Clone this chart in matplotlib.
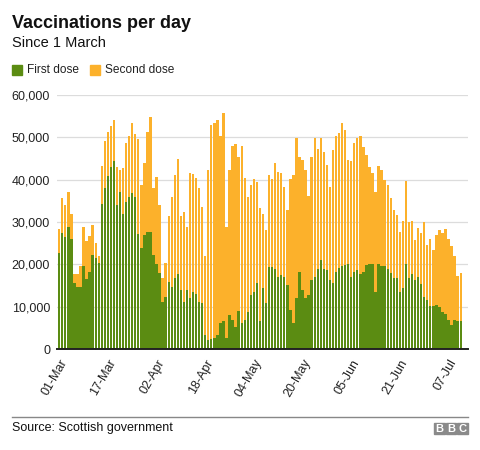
import numpy as np
import pandas as pd
import matplotlib
matplotlib.use("Agg")
import matplotlib.pyplot as plt
from matplotlib.patches import Rectangle
from matplotlib.ticker import FuncFormatter

plt.rcParams['font.family'] = ['Liberation Sans', 'DejaVu Sans']

# daily totals and first doses (01-Mar onwards)
total = [28300, 35600, 34000, 37200, 32000, 17700, 17700, 19600, 28900, 25400,
         26700, 29300, 25100, 22000, 43200, 49200, 51300, 52700, 54100, 42900,
         42400, 42700, 48600, 50200, 53500, 50900, 49500, 38700, 43900, 51300,
         54900, 38000, 40600, 34000, 16700, 20200, 31400, 36000, 41100, 44800,
         31300, 32400, 28900, 41500, 41300, 40300, 38000, 33600, 22000, 42400,
         52900, 53300, 54000, 50200, 55800, 28900, 42300, 48000, 48400, 45400,
         48000, 40300, 36000, 38700, 40100, 39500, 33200, 32000, 28100, 41100,
         40100, 43900, 41900, 41500, 38300, 32800, 40100, 41100, 49800, 45400,
         44600, 42300, 36100, 45400, 49800, 47200, 49800, 46600, 43500, 38300,
         47000, 50200, 51000, 53300, 51700, 44600, 44300, 48600, 49900, 50300,
         47800, 45800, 42900, 41500, 37200, 43200, 42300, 40000, 38700, 35600,
         32800, 31700, 27700, 30300, 39800, 30000, 30200, 25700, 28700, 27300,
         30000, 24600, 26100, 23400, 26900, 28100, 27500, 28300, 25900, 24300,
         22000, 17200, 18000]
first_dose = [22600, 27300, 26500, 28900, 26100, 15700, 14700, 14600, 19600, 16500,
              18300, 22200, 21400, 20200, 34300, 38000, 40900, 43100, 44300, 34000,
              37200, 32000, 34800, 35800, 36800, 35800, 27200, 23800, 26900, 27700,
              27600, 22200, 20100, 17900, 11200, 12400, 15900, 14700, 16700, 17700,
              13900, 11200, 13900, 12000, 13500, 13100, 11200, 10800, 3300, 2100,
              2300, 2500, 3300, 6100, 6500, 2500, 8000, 6900, 5300, 9000,
              6100, 6900, 8800, 12800, 13500, 15700, 6500, 14300, 10900, 19400,
              19300, 19000, 16900, 17500, 16900, 15100, 9200, 6100, 12000, 18300,
              13900, 12000, 12800, 16300, 17100, 18800, 21000, 19000, 18700, 16300,
              15700, 18300, 19100, 19500, 19800, 20100, 17000, 18300, 18700, 17600,
              18300, 19800, 20100, 20100, 13500, 20100, 19700, 19500, 18900, 17900,
              16700, 16700, 13500, 14300, 20100, 16800, 17600, 16300, 16900, 15400,
              12400, 11600, 10200, 10200, 10400, 10000, 8800, 8300, 6900, 5700,
              6900, 6700, 6700]
second_dose = [t - f for t, f in zip(total, first_dose)]

tick_labels = ["01-Mar", "17-Mar", "02-Apr", "18-Apr", "04-May",
               "20-May", "05-Jun", "21-Jun", "07-Jul"]
tick_step = 16

GREEN = "#5b8c12"
ORANGE = "#fcb12b"

days = np.arange(len(total))

fig = plt.figure(figsize=(4.8, 4.5), dpi=100)
ax = fig.add_axes([57 / 480, 1 - 349 / 450, 411 / 480, 254 / 450])

ax.bar(days, first_dose, width=0.78, color=GREEN, linewidth=0, zorder=2)
ax.bar(days, second_dose, bottom=first_dose, width=0.78, color=ORANGE,
       linewidth=0, zorder=2)

ax.set_xlim(-0.73, len(total) + 1.4)
ax.set_ylim(0, 60000)
ax.set_yticks(np.arange(0, 60001, 10000))
ax.yaxis.set_major_formatter(FuncFormatter(lambda v, p: f"{int(v):,}"))
ax.grid(axis="y", color="#dcdcdc", linewidth=0.9, zorder=0)
ax.set_axisbelow(True)

ax.set_xticks(days[::tick_step][:len(tick_labels)])
ax.set_xticklabels(tick_labels, rotation=60, ha="right", rotation_mode="anchor")

for s in ["top", "right", "left"]:
    ax.spines[s].set_visible(False)
ax.spines["bottom"].set_color("#222222")
ax.spines["bottom"].set_linewidth(1.4)
ax.spines["bottom"].set_zorder(3)
ax.tick_params(axis="both", length=0, labelsize=9, colors="#222222")
ax.tick_params(axis="y", pad=5)
ax.tick_params(axis="x", pad=6)

# titles
fig.text(12 / 480, 1 - 23 / 450, "Vaccinations per day", fontsize=13,
         fontweight="bold", va="center", ha="left", color="#111111")
fig.text(12 / 480, 1 - 43 / 450, "Since 1 March", fontsize=10.5,
         va="center", ha="left", color="#111111")

# legend
for x0, col, lab in [(12, GREEN, "First dose"), (90, ORANGE, "Second dose")]:
    fig.patches.append(Rectangle((x0 / 480, 1 - 75 / 450), 10 / 480, 10 / 450,
                                 transform=fig.transFigure, color=col))
    fig.text((x0 + 15) / 480, 1 - 70 / 450, lab, fontsize=8.6, va="center",
             ha="left", color="#222222")

# footer
fig.add_artist(plt.Line2D([12 / 480, 468 / 480], [1 - 417 / 450, 1 - 417 / 450],
                          transform=fig.transFigure, color="#888888", linewidth=1))
fig.text(12 / 480, 1 - 428 / 450, "Source: Scottish government", fontsize=9,
         va="center", ha="left", color="#111111")
for i, letter in enumerate("BBC"):
    bx = 434 + i * 11.5
    fig.patches.append(Rectangle((bx / 480, 1 - 434 / 450), 10.5 / 480, 11 / 450,
                                 transform=fig.transFigure, color="#8a8a8a"))
    fig.text((bx + 5.25) / 480, 1 - 428.5 / 450, letter, fontsize=8,
             fontweight="bold", color="white", ha="center", va="center")

fig.savefig("out.png", dpi=100, facecolor="white")
